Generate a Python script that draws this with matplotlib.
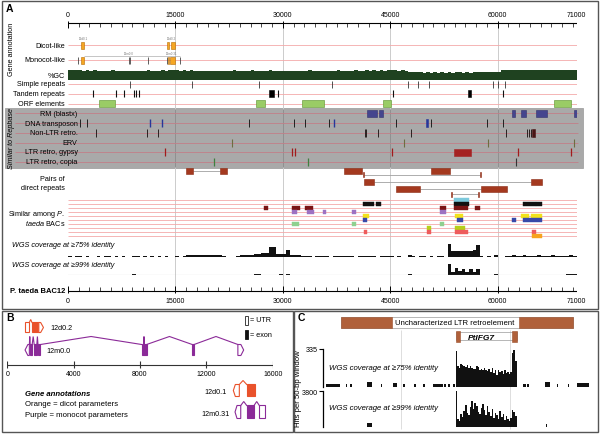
import matplotlib
matplotlib.use('Agg')
import matplotlib.pyplot as plt
from matplotlib.patches import Rectangle, Polygon
import numpy as np

plt.rcParams['font.family'] = ['Liberation Sans', 'DejaVu Sans']
plt.rcParams['mathtext.fontset'] = 'custom'
plt.rcParams['mathtext.rm'] = 'Liberation Sans'
plt.rcParams['mathtext.it'] = 'Liberation Sans:italic'
plt.rcParams['mathtext.bf'] = 'Liberation Sans:bold'

# ---------------- data ----------------
bac_len = 71000
axis_ticks = [0, 15000, 30000, 45000, 60000, 71000]
grid_bp = [15000, 30000, 45000, 60000]

dicot_exons = [(1880, 2270), (13850, 14100), (14350, 14950)]
monocot_exons = [(1750, 2300), (13950, 14150), (14250, 14900)]
monocot_ticks = [1465, 8450, 8650, 11200, 13850, 15650]

simple_repeats = [8650, 17300, 26600, 36900, 47500, 48900, 50400, 59300, 60000, 61000]
tandem_ticks = [3500, 6770, 7800, 9200, 9500, 9900, 29300, 45400, 60800]
tandem_blocks = [(28000, 28700), (55900, 56200)]
orf_blocks = [(4300, 6600), (26200, 27500), (32700, 35700), (44000, 45100), (67900, 70300)]

rm_blocks = [(41800, 43200), (43400, 44000), (62000, 62450), (63200, 64000), (65300, 66900), (70700, 71050)]
dna_ticks = [1670, 2600, 25300, 31600, 33060, 36500, 45850, 50700, 58500, 60700]
dna_ticks_blue = [11500, 13160, 37100]
dna_blocks_blue = [(49940, 50320)]
nonltr_ticks = [3950, 11060, 12510, 41430, 41670, 43290, 47850, 61100, 64100, 64400, 64650]
nonltr_blocks = [(64850, 65200)]
erv_ticks = [22900, 46870, 58700, 70600]
gypsy_ticks = [13490, 31300, 31670, 45200, 62800, 70300]
gypsy_blocks = [(53850, 56300)]
copia_ticks_green = [20400, 33520]
copia_ticks = [62600]

dr_left = [(16420, 17480), (38500, 41100), (41150, 41350), (41300, 42700), (45750, 49150), (53450, 53650)]
dr_right = [(21200, 22140), (50700, 53300), (57500, 57700), (64700, 66200), (57600, 61250), (57250, 57450)]
dr_row = [0, 0, 1, 2, 3, 4]
dr_link = [True, False, True, True, True, True]

bac_hits = [
    [(53850, 55940)],
    [(41200, 42700), (42970, 43700), (53850, 55940), (63570, 65290), (65380, 66170)],
    [(27300, 27860), (31290, 32460), (33060, 34220), (51900, 52730), (53890, 55840), (56780, 57470)],
    [(31290, 32000), (33430, 34400), (35570, 36080), (39660, 40180), (51900, 52730)],
    [(41200, 42030), (53990, 55150), (63240, 64350), (64590, 66220)],
    [(41200, 41810), (54300, 55150), (61940, 62590), (63570, 66170)],
    [(31290, 32320), (39660, 40180), (51900, 52550)],
    [(50180, 50640), (53990, 55480)],
    [(41330, 41810), (50180, 50640), (53990, 55840), (64730, 65290)],
    [(64730, 66220)],
]
bac_colors = ['#7cc9dc', '#111111', '#7a1414', '#9d72c2', '#f2e21c', '#3849a8',
              '#8fd08f', '#b6cf1c', '#ee5b5b', '#f7a31e']

win_bp = 500
gc_pct = [38.8, 39.2, 38.6, 39.0, 38.4, 38.9, 38.2, 38.7, 38.0, 38.5,
          38.3, 37.9, 38.6, 38.1, 38.4, 37.8, 38.5, 38.0, 38.3, 37.9,
          38.4, 38.0, 38.6, 38.2, 38.5, 38.1, 38.8, 38.4, 39.0, 38.6,
          38.9, 38.5, 38.8, 38.2, 38.6, 38.0, 38.4, 37.9, 38.3, 38.1,
          38.5, 38.0, 38.3, 37.8, 38.4, 38.0, 38.6, 38.1, 38.3, 37.9,
          38.2, 38.6, 38.0, 38.4, 38.1, 38.5, 38.9, 38.3, 38.0, 38.4,
          38.1, 38.5, 37.9, 38.3, 38.0, 38.4, 38.1, 38.6, 38.2, 38.0,
          38.4, 38.1, 38.5, 38.0, 38.3, 38.7, 38.2, 38.5, 38.1, 38.4,
          38.6, 38.2, 38.5, 38.9, 38.4, 38.7, 38.3, 38.8, 38.5, 39.0,
          38.7, 39.1, 38.5, 38.8, 38.2, 37.5, 37.2, 36.8, 37.0, 36.6,
          36.9, 36.5, 36.8, 36.4, 37.0, 36.6, 36.9, 36.3, 36.7, 37.1,
          36.6, 37.0, 36.5, 36.9, 37.3, 36.8, 37.2, 36.9, 37.4, 37.0,
          37.6, 38.9, 39.3, 38.8, 39.2, 38.7, 39.1, 38.6, 39.0, 38.8,
          39.2, 38.7, 39.0, 38.6, 39.1, 38.8, 39.3, 38.9, 39.2, 38.7,
          39.0, 38.6]

cov75 = [0.8, 0, 0.8, 0.8, 0, 0.8, 0, 0, 0.8, 0,
         0.8, 0.8, 0, 0.8, 0, 0.8, 0, 0, 0.8, 0.8,
         0, 0.8, 0, 0.8, 0, 0.8, 0, 0.8, 0, 0,
         0.8, 0, 1.0, 1.2, 1.2, 1.3, 1.2, 1.2, 1.1, 1.2,
         1.3, 1.2, 1.1, 1.0, 0, 0, 0, 1.0, 1.2, 1.3,
         1.5, 1.8, 2.2, 2.8, 3.5, 4.0, 9.5, 9.0, 3.0, 2.5,
         3.0, 6.5, 2.0, 1.5, 1.2, 1.0, 0.9, 1.0, 0, 1.0,
         1.0, 0.9, 1.0, 0, 1.0, 1.0, 1.0, 0.9, 1.0, 1.0,
         0, 1.0, 1.0, 1.0, 0.9, 1.0, 0, 1.0, 1.0, 0.9,
         0.8, 0, 0.8, 0, 0, 2.0, 0.8, 0, 0.8, 0.8,
         0, 0.8, 0, 0.8, 0.8, 0, 12.0, 6.0, 5.5, 5.5,
         5.2, 5.5, 6.0, 6.5, 11.5, 0.8, 0, 0.8, 0, 1.2,
         0, 0, 1.0, 1.0, 1.1, 1.0, 1.0, 1.1, 1.0, 1.0,
         1.0, 1.1, 1.0, 1.0, 1.0, 1.1, 1.0, 1.0, 1.0, 1.0,
         1.1, 1.0]
cov99 = [0, 0, 0, 0, 0, 0, 0, 0, 0, 0,
         0, 0, 0, 0, 0, 0, 0, 0, 1.2, 0,
         0, 0, 0, 0, 0, 0, 0, 0, 0, 0,
         0, 0, 0, 0, 0, 0, 0, 0, 0, 0,
         0, 0, 0, 0, 0, 0, 0, 0, 0, 0,
         0, 0, 1.2, 1.0, 0, 0, 0, 0, 0, 1.5,
         0, 1.5, 0, 0, 0, 0, 0, 0, 0, 0,
         0, 0, 0, 0, 0, 0, 0, 0, 0, 0,
         0, 0, 0, 0, 0, 0, 0, 0, 0, 0,
         0, 0, 0, 0, 0, 1.5, 0, 0, 0, 0,
         0, 0, 0, 0, 0, 0, 11.5, 3.5, 7.0, 4.0,
         6.5, 3.5, 6.0, 3.0, 6.5, 0, 0, 0, 0, 0.8,
         0, 0, 0, 0, 0, 0, 0, 0, 0, 0,
         0, 0, 0, 0, 0, 0, 0, 0, 0, 0.8,
         0.8, 0.8]

# panel B gene models (bp on the 0-16000 scale)
scaleB_ticks = [0, 4000, 8000, 12000, 16000]
g12d02_parts = [(1070, 1330, 'utr'), (1490, 1900, 'cds'), (1900, 2180, 'utr>')]
g12m00_parts = [(1070, 1330, '<utr'), (1380, 1500, 'cds'), (1620, 1780, 'cds'), (1850, 2000, 'cds'),
                (8100, 8220, 'cds'), (8260, 8400, 'cds'), (11150, 11260, 'cds'), (13900, 14250, 'utr>')]
legend_12d01 = [(13627, 13988, '<utr'), (14434, 14935, 'cds')]
legend_12m031 = [(13729, 14073, '<utr'), (14434, 14875, 'cds'), (15194, 15538, 'utr')]

# panel C
c_range = (45030, 62035)
ltr_boxes = [(46142, 49406), (57534, 60990)]
ifg_boxes = [(53501, 53779), (57128, 57406)]
c_grid = [50000, 57000]
c75_bg_start = [45181, 46461, 46739, 47848, 48701, 49512, 50152, 50835, 51389, 52030, 52755, 53032, 53352,
                57832, 58088, 59219, 59966, 60712, 61288]
c75_bg_end = [46097, 46568, 46845, 48125, 48808, 49725, 50259, 50963, 51539, 52712, 52861, 53139, 53459,
              57982, 58195, 59539, 60072, 60776, 62035]
c75_bg_val = [28, 28, 28, 42, 28, 30, 28, 28, 28, 28, 28, 28, 28, 28, 28, 42, 28, 25, 30]
c_hi_start = 53500
c_hi_win = 100
c75_hi = [320, 180, 170, 200, 195, 185, 175, 190, 165, 180, 170, 155, 160, 185, 175, 150, 160, 145, 170, 150,
          140, 160, 135, 165, 120, 150, 100, 145, 130, 140, 115, 150, 125, 135, 110, 130, 300, 330, 230]
c99_hi = [3800, 900, 700, 1400, 1100, 1700, 2400, 1500, 1300, 2100, 2800, 1900, 2600, 2200, 1600, 1400, 2000,
          2500, 1800, 1300, 2300, 1600, 1200, 1900, 1000, 1500, 1300, 900, 1700, 1100, 1400, 800, 1200, 900,
          700, 1000, 1800, 1600, 1200]
c99_bg_start = [47848, 59300]
c99_bg_end = [48125, 59360]
c99_bg_val = [500, 400]

# ---------------- layout helpers ----------------
W, H = 600, 435
fig = plt.figure(figsize=(6, 4.35), dpi=100)


def frect(x0, y0, x1, y1):
    return [x0 / W, 1 - y1 / H, (x1 - x0) / W, (y1 - y0) / H]


pix = fig.add_axes([0, 0, 1, 1], zorder=0)
pix.set_xlim(0, W)
pix.set_ylim(H, 0)
pix.axis('off')

FS = 5.2
pink = '#f4a9a9'

# panel borders and grey Repbase block
for (x0, y0, x1, y1) in [(2, 1.5, 597.5, 309.5), (2, 312, 292.5, 432.5), (293.5, 312, 597.5, 432.5)]:
    pix.add_patch(Rectangle((x0, y0), x1 - x0, y1 - y0, fc='none', ec='#555555', lw=1.0))
pix.add_patch(Rectangle((5, 109), 577.5, 59.5, fc='#a9a9a9', ec='#999999', lw=0.5))

# ---------------- panel A tracks ----------------
axA = fig.add_axes(frect(68, 0, 576.5, 310), zorder=2)
axA.set_xlim(0, bac_len)
axA.set_ylim(310, 0)
axA.axis('off')
P = pix.transData


def rects(ax, spans, yc, h, fc, ec=None, lw=0.4, z=3):
    for s, e in spans:
        ax.add_patch(Rectangle((s, yc - h / 2), e - s, h, fc=fc, ec=ec if ec else fc, lw=lw, zorder=z))


def label(text, x, y, ha='right', **kw):
    axA.text(x, y, text, transform=P, ha=ha, va='center', fontsize=kw.pop('fs', FS), clip_on=False,
             zorder=6, **kw)


# grid lines
axA.vlines(grid_bp, 24, 291.7, color='#cccccc', lw=0.7, zorder=0.5)
axA.vlines(grid_bp, 109.5, 168, color='#858585', lw=0.6, zorder=0.6)

# top and bottom coordinate axes
for y0, sgn, lab_y in [(24, 1, 15.5), (291.7, -1, 301.5)]:
    axA.hlines(y0, 0, bac_len, color='k', lw=0.8, zorder=4)
    minor = [t for t in np.arange(0, bac_len, 1500)]
    axA.vlines(minor, y0, y0 + sgn * 4, color='k', lw=0.5, zorder=4)
    axA.vlines(axis_ticks, y0 - sgn * 2.5, y0 + sgn * 5, color='k', lw=0.7, zorder=4)
    for t in axis_ticks:
        axA.text(t, lab_y, str(t), ha='center', va='center', fontsize=5, zorder=5)

# track rows
rows_main = {'Dicot-like': 46, 'Monocot-like': 61, 'Simple repeats': 85, 'Tandem repeats': 94.5,
             'ORF elements': 104.5}
for name, y in rows_main.items():
    axA.hlines(y, 0, bac_len, color=pink, lw=0.6, zorder=1)
    label(name, 65, y)
label('%GC', 64.5, 76)

rep_rows = {'RM (blastx)': 114, 'DNA transposon': 124, 'Non-LTR retro.': 134, 'ERV': 143.5,
            'LTR retro, gypsy': 153, 'LTR retro, copia': 163}
for name, y in rep_rows.items():
    axA.hlines(y, -7400, bac_len + 150, color='#c27f88', lw=0.6, zorder=1, clip_on=False)
    label(name, 77.7, y)

# gene annotation
orange = '#f5a623'
rects(axA, dicot_exons, 46, 7, orange, '#b86b00', lw=0.4)
axA.text(2100, 39.5, '12d0.1', fontsize=2.2, ha='center', va='center', color='#777777')
axA.text(14400, 39.5, '12d0.2', fontsize=2.2, ha='center', va='center', color='#777777')
axA.hlines(57.2, 2300, 15650, color='#999999', lw=0.4, zorder=2)
rects(axA, monocot_exons, 61, 7, orange, '#b86b00', lw=0.4)
axA.vlines(monocot_ticks, 57.5, 64.5, color='#444444', lw=0.6, zorder=3)
axA.text(8500, 54.5, '12m0.0', fontsize=2.2, ha='center', va='center', color='#777777')
axA.text(14500, 54.5, '12m0.31', fontsize=2.2, ha='center', va='center', color='#777777')

# %GC
axGC = fig.add_axes(frect(68, 69.5, 576.5, 80.5), zorder=2)
axGC.set_xlim(0, bac_len)
axGC.set_ylim(30, 40.5)
axGC.axis('off')
gc_x = np.arange(len(gc_pct)) * win_bp
axGC.bar(gc_x, np.array(gc_pct) - 30, bottom=30, width=win_bp, align='edge', color='#1f4220', lw=0)

# repeats
axA.vlines(simple_repeats, 81.5, 88.5, color='#333333', lw=0.6, zorder=3)
axA.vlines(tandem_ticks, 91, 98, color='#111111', lw=0.8, zorder=3)
rects(axA, tandem_blocks, 94.5, 7, '#000000')
rects(axA, orf_blocks, 104.5, 7.5, '#9acc66', '#6f9f45', lw=0.5)

# Repbase
rects(axA, rm_blocks, 114, 7, '#45458e', '#33336e', lw=0.4)
axA.vlines(dna_ticks, 120, 128, color='#202020', lw=0.7, zorder=3)
axA.vlines(dna_ticks_blue, 120, 128, color='#27379a', lw=1.0, zorder=3)
rects(axA, dna_blocks_blue, 124, 8, '#27379a')
axA.vlines(nonltr_ticks, 130, 138, color='#2a2020', lw=0.7, zorder=3)
rects(axA, nonltr_blocks, 134, 8, '#4a1515')
axA.vlines(erv_ticks, 139.5, 147.5, color='#6d6d40', lw=0.8, zorder=3)
axA.vlines(gypsy_ticks, 149, 157, color='#a01c1c', lw=0.9, zorder=3)
rects(axA, gypsy_blocks, 153, 7, '#a52222')
axA.vlines(copia_ticks_green, 159, 167, color='#3f7f3f', lw=0.9, zorder=3)
axA.vlines(copia_ticks, 159, 167, color='#333333', lw=0.8, zorder=3)

# direct repeats
dr_y = [171.7, 175.7, 183.3, 190, 195.3]
for (a, b), (c, d), r, lk in zip(dr_left, dr_right, dr_row, dr_link):
    y = dr_y[r]
    h = 5.8 if (b - a) > 500 else 5
    if lk:
        axA.hlines(y, b, c, color='#a0a0a0', lw=0.6, zorder=2)
    rects(axA, [(a, b)], y, h, '#a4391f', '#8a2a14', lw=0.4)
    rects(axA, [(c, d)], y, 5.8 if (d - c) > 500 else 5, '#a4391f', '#8a2a14', lw=0.4)
label('Pairs of', 65, 180)
label('direct repeats', 65, 188.7)

# BAC similarity
for k, (hits, col) in enumerate(zip(bac_hits, bac_colors)):
    y = 201.3 + 4 * k
    axA.hlines(y, 0, bac_len, color=pink, lw=0.6, zorder=1)
    rects(axA, hits, y, 3.8, col, lw=0.3)
label(r'Similar among $\mathit{P.}$', 65, 214.3)
label(r'$\mathit{taeda}$ BACs', 65, 223.8)

# coverage tracks
label('WGS coverage at \u226575% identity', 11.5, 246, ha='left', style='italic')
label('WGS coverage at \u226599% identity', 11.5, 265.5, ha='left', style='italic')
cov_x = np.arange(len(cov75)) * win_bp
ax75 = fig.add_axes(frect(68, 243.5, 576.5, 257.5), zorder=2)
ax75.set_xlim(0, bac_len)
ax75.set_ylim(0, 14)
ax75.axis('off')
ax75.bar(cov_x, cov75, width=win_bp, align='edge', color='#111111', lw=0)
ax99 = fig.add_axes(frect(68, 262.5, 576.5, 276), zorder=2)
ax99.set_xlim(0, bac_len)
ax99.set_ylim(0, 13.5)
ax99.axis('off')
ax99.axhline(0, color='#aaaaaa', lw=0.8)
ax99.bar(cov_x, cov99, width=win_bp, align='edge', color='#111111', lw=0)

# left titles
pix.text(6, 8.5, 'A', fontsize=7.5, fontweight='bold', ha='left', va='center')
pix.text(12, 49, 'Gene annotation', fontsize=FS, rotation=90, ha='center', va='center')
axA.text(12, 138.5, 'Similar to Repbase', transform=P, fontsize=FS, rotation=90, ha='center', va='center',
         style='italic', zorder=6)
pix.text(65, 291.5, 'P. taeda BAC12', fontsize=5.5, fontweight='bold', ha='right', va='center')

# ---------------- panel B ----------------
axB = fig.add_axes(frect(7.3, 311, 272.7, 433), zorder=2)
axB.set_xlim(0, 16000)
axB.set_ylim(433, 311)
axB.axis('off')
axB.hlines(366, 0, 16000, color='#333333', lw=0.8)
axB.vlines(scaleB_ticks, 362, 369.5, color='#333333', lw=0.8)
for t in scaleB_ticks:
    axB.text(t, 374.5, str(t), ha='center', va='center', fontsize=5)


def gene(ax, parts, yc, h, col, tip=150, peak=5, lw=0.8):
    top, bot = yc - h / 2, yc + h / 2
    for i, (s, e, kind) in enumerate(parts):
        fill = 'cds' in kind
        if '>' in kind:
            pts = [(s, top), (e - tip, top), (e, yc), (e - tip, bot), (s, bot)]
        elif '<' in kind:
            pts = [(s + tip, top), (e, top), (e, bot), (s + tip, bot), (s, yc)]
        else:
            pts = [(s, top), (e, top), (e, bot), (s, bot)]
        ax.add_patch(Polygon(pts, closed=True, fc=col if fill else 'white', ec=col, lw=lw, zorder=3))
        if i + 1 < len(parts):
            ns = parts[i + 1][0]
            if ns - e > 20:
                mid = (e + ns) / 2
                ax.plot([e, mid, ns], [top, top - peak, top], color=col, lw=lw, zorder=2,
                        solid_joinstyle='miter')


dcol = '#e9522b'
mcol = '#8b2a98'
gene(axB, g12d02_parts, 328.5, 10, dcol, tip=170, peak=3)
gene(axB, g12m00_parts, 351, 11, mcol, tip=170, peak=8)
gene(axB, legend_12d01, 391.5, 12, dcol, tip=120, peak=4)
gene(axB, legend_12m031, 413, 13, mcol, tip=120, peak=4)
pix.text(50, 328.5, '12d0.2', fontsize=FS, ha='left', va='center')
pix.text(46, 351.5, '12m0.0', fontsize=FS, ha='left', va='center')
pix.text(227, 392.5, '12d0.1', fontsize=FS, ha='right', va='center')
pix.text(230, 414.5, '12m0.31', fontsize=FS, ha='right', va='center')
pix.add_patch(Rectangle((245, 316.5), 3.3, 9, fc='white', ec='#222222', lw=0.6))
pix.add_patch(Rectangle((245, 331), 3.3, 9, fc='#111111', ec='#111111', lw=0.6))
pix.text(250, 321, '= UTR', fontsize=FS, ha='left', va='center')
pix.text(250, 335.7, '= exon', fontsize=FS, ha='left', va='center')
pix.text(25, 394.5, 'Gene annotations', fontsize=5.6, ha='left', va='center', fontweight='bold',
         style='italic')
pix.text(25, 405, 'Orange = dicot parameters', fontsize=5.6, ha='left', va='center')
pix.text(25, 415.5, 'Purple = monocot parameters', fontsize=5.6, ha='left', va='center')
pix.text(6, 318, 'B', fontsize=7.5, fontweight='bold', ha='left', va='center')

# ---------------- panel C ----------------
axC = fig.add_axes(frect(323.3, 311, 589, 433), zorder=2)
axC.set_xlim(*c_range)
axC.set_ylim(433, 311)
axC.axis('off')
axC.vlines(c_grid, 331, 430, color='#dddddd', lw=0.7, zorder=0)
axC.add_patch(Rectangle((ltr_boxes[0][0], 317.7), ltr_boxes[1][1] - ltr_boxes[0][0], 11.6, fc='none',
                        ec='#9a9a9a', lw=0.5, zorder=2))
rects(axC, ltr_boxes, 323.5, 11.6, '#b0603a', '#9a4f2c', lw=0.4)
axC.text((ltr_boxes[0][1] + ltr_boxes[1][0]) / 2, 324, 'Uncharacterized LTR retroelement', ha='center',
         va='center', fontsize=5.6, zorder=4)
axC.add_patch(Rectangle((ifg_boxes[0][0], 333.5), ifg_boxes[1][1] - ifg_boxes[0][0], 8, fc='none',
                        ec='#9a9a9a', lw=0.5, zorder=2))
rects(axC, ifg_boxes, 337.8, 11, '#b0603a', '#9a4f2c', lw=0.4)
axC.text(55150, 338.3, 'PtIFG7', ha='center', va='center', fontsize=6, fontweight='bold', style='italic',
         zorder=4)

hi_x = c_hi_start + np.arange(len(c75_hi)) * c_hi_win


def cov_axes(rect, ymax):
    a = fig.add_axes(rect, zorder=2)
    a.set_xlim(*c_range)
    a.set_ylim(0, ymax)
    a.patch.set_alpha(0)
    for s in ['top', 'right', 'bottom']:
        a.spines[s].set_visible(False)
    a.spines['left'].set_linewidth(0.9)
    a.set_xticks([])
    a.set_yticks([ymax])
    a.set_yticklabels([str(ymax)])
    a.tick_params(axis='y', length=3, width=0.8, labelsize=5.2, pad=1)
    return a


c75 = cov_axes(frect(323.3, 350, 589, 387.7), 335)
c75.bar(c75_bg_start, c75_bg_val, width=np.array(c75_bg_end) - np.array(c75_bg_start), align='edge',
        color='#111111', lw=0)
c75.bar(hi_x, c75_hi, width=c_hi_win, align='edge', color='#111111', lw=0)
c75.text(0.02, 0.5, 'WGS coverage at \u226575% identity', transform=c75.transAxes, fontsize=5.6,
         style='italic', ha='left', va='center')

c99 = cov_axes(frect(323.3, 392.3, 589, 428.3), 3800)
c99.axhline(0, color='#bbbbbb', lw=0.6)
c99.bar(c99_bg_start, c99_bg_val, width=np.array(c99_bg_end) - np.array(c99_bg_start), align='edge',
        color='#111111', lw=0)
c99.bar(hi_x, c99_hi, width=c_hi_win, align='edge', color='#111111', lw=0)
c99.text(0.02, 0.55, 'WGS coverage at \u226599% identity', transform=c99.transAxes, fontsize=5.6,
         style='italic', ha='left', va='center')

pix.text(297.5, 318.5, 'C', fontsize=7.5, fontweight='bold', ha='left', va='center')
pix.text(298, 389, 'Hits per 50-bp window', fontsize=5.6, rotation=90, ha='center', va='center')

fig.savefig('out.png', dpi=100)
